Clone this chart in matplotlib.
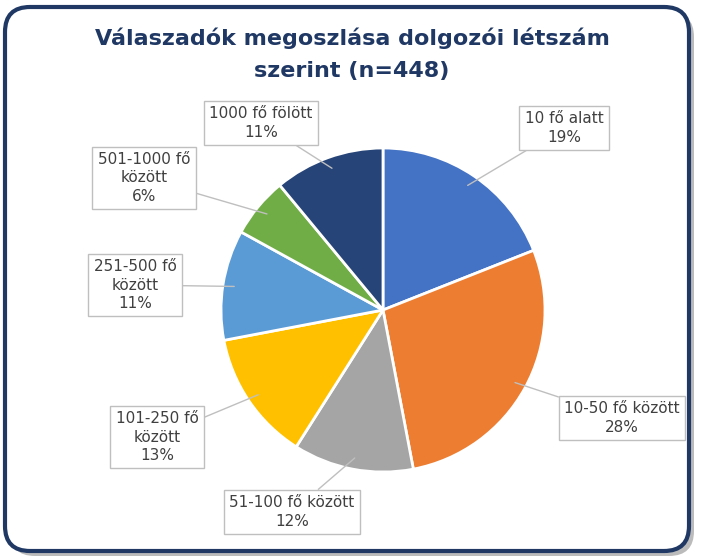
import matplotlib
matplotlib.use("Agg")
import matplotlib.pyplot as plt
from matplotlib.patches import FancyBboxPatch
import numpy as np

labels = ["10 fő alatt", "10-50 fő között", "51-100 fő között", "101-250 fő\nközött",
          "251-500 fő\nközött", "501-1000 fő\nközött", "1000 fő fölött"]
values = [19, 28, 12, 13, 11, 6, 11]
colors = ["#4472C4", "#ED7D31", "#A5A5A5", "#FFC000", "#5B9BD5", "#70AD47", "#264478"]
label_pos = [(564, 128), (622, 418), (292, 512), (157, 437), (135, 285), (144, 178), (261, 123)]

W, H = 704, 558
fig = plt.figure(figsize=(W/100, H/100), dpi=100)
ax = fig.add_axes([0, 0, 1, 1])
ax.set_xlim(0, W); ax.set_ylim(0, H); ax.axis("off")

# border with shadow
ax.add_patch(FancyBboxPatch((10, 2), W-20, H-14, boxstyle="round,pad=0,rounding_size=25",
                            fc="#bbbbbb", ec="none", zorder=0))
ax.add_patch(FancyBboxPatch((5, 7), W-20, H-14, boxstyle="round,pad=0,rounding_size=25",
                            fc="white", ec="#1F3864", lw=3, zorder=1))

cx, cy, r = 383, H-310, 162
wedges, _ = ax.pie(values, colors=colors, startangle=90, counterclock=False,
                   center=(cx, cy), radius=r, frame=True,
                   wedgeprops=dict(edgecolor="white", linewidth=2, zorder=2))
ax.set_xlim(0, W); ax.set_ylim(0, H); ax.axis("off")

for w, lab, v, (px, py) in zip(wedges, labels, values, label_pos):
    ang = np.deg2rad((w.theta1 + w.theta2) / 2)
    x0, y0 = cx + r*0.93*np.cos(ang), cy + r*0.93*np.sin(ang)
    ax.annotate(f"{lab}\n{v}%", xy=(x0, y0), xytext=(px, H-py), ha="center", va="center",
                fontsize=11, color="#404040", linespacing=1.3, zorder=5,
                bbox=dict(boxstyle="square,pad=0.35", fc="white", ec="#BFBFBF", lw=1),
                arrowprops=dict(arrowstyle="-", color="#BFBFBF", lw=1, shrinkA=0, shrinkB=0))

ax.text(W/2, H-38, "Válaszadók megoszlása dolgozói létszám", ha="center", va="center",
        fontsize=16, fontweight="bold", color="#1F3864", zorder=5)
ax.text(W/2, H-71, "szerint (n=448)", ha="center", va="center",
        fontsize=16, fontweight="bold", color="#1F3864", zorder=5)

fig.savefig("out.png", dpi=100)
